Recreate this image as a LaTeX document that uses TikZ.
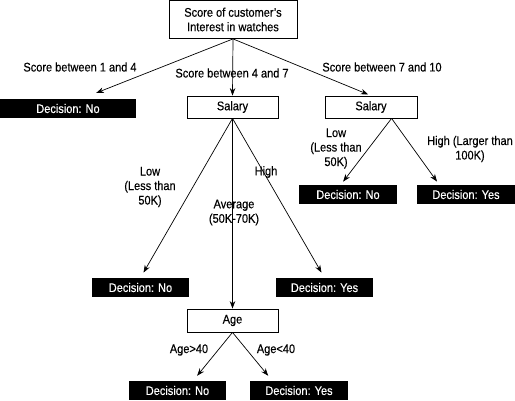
\documentclass[tikz,border=0pt]{standalone}
\usepackage{fontspec}
\setmainfont{Liberation Sans}[FakeStretch=0.88, FakeBold=0.35]
\usetikzlibrary{arrows.meta,calc,positioning}

\begin{document}
\begin{tikzpicture}[x=1pt,y=-1pt,
    every node/.style={font=\fontsize{12.5}{14.5}\selectfont, inner sep=0pt},
    splitbox/.style={draw, line width=0.8pt, fill=white, minimum width=91pt, minimum height=22pt, align=center},
    decbox/.style={fill=black, text=white, minimum width=97pt, minimum height=19pt},
    lbl/.style={align=center},
    edge/.style={line width=0.7pt, -{Stealth[length=7.5pt,width=5.5pt]}}]
    \useasboundingbox (0,0) rectangle (515,400);
    % Split nodes
    \node[splitbox, minimum width=128pt, minimum height=38pt] (root) at (233,19.5) {Score of customer's\\Interest in watches};
    \node[splitbox] (sal1) at (232.5,107) {Salary};
    \node[splitbox, minimum width=92pt] (sal2) at (371,107) {Salary};
    \node[splitbox, minimum height=23pt] (age) at (232.5,320.5) {Age};
    % Decisions
    \node[decbox, minimum width=136pt] (dec1) at (68,108.5) {Decision: No};
    \node[decbox] (dec2) at (140.5,287.5) {Decision: No};
    \node[decbox] (dec3) at (324.5,287.5) {Decision: Yes};
    \node[decbox, minimum width=98pt] (dec4) at (348,194.5) {Decision: No};
    \node[decbox, minimum width=98pt] (dec5) at (466,194.5) {Decision: Yes};
    \node[decbox] (dec6) at (177.5,390.5) {Decision: No};
    \node[decbox, minimum width=98pt] (dec7) at (299,390.5) {Decision: Yes};
    % Branches
    \draw[edge, shorten >=16pt] (root.south) -- (dec1.36);
    \draw[edge] (root.south) -- (sal1.north);
    \draw[edge, shorten >=3pt] (root.south) -- (sal2.north);
    \draw[edge, shorten >=6pt] (sal1.south) -- (dec2.north);
    \draw[edge, shorten >=6pt] (sal1.south) -- (dec3.north);
    \draw[edge] (sal1.south) -- (age.north);
    \draw[edge, shorten >=4pt] (sal2.-29) -- (dec4.127);
    \draw[edge, shorten >=4pt] (sal2.-29) -- (dec5.160);
    \draw[edge, shorten >=6.5pt] (age.south) -- (dec6.32);
    \draw[edge, shorten >=6.5pt] (age.south) -- (dec7.160);
    % Branch labels
    \node[lbl] (s14) at (80,67) {Score between 1 and 4};
    \node[lbl] (s47) at (232,73) {Score between 4 and 7};
    \node[lbl] (s710) at (382,67) {Score between 7 and 10};
    \node[lbl] (lowA) at (150,187) {Low\\(Less than\\50K)};
    \node[lbl] (avgA) at (234,212.5) {Average\\(50K-70K)};
    \node[lbl] (highA) at (266,172) {High};
    \node[lbl] (lowB) at (336,148.5) {Low\\(Less than\\50K)};
    \node[lbl] (highB) at (470,149) {High (Larger than\\100K)};
    \node[lbl] (agegt) at (189,350) {Age>40};
    \node[lbl] (agelt) at (276,350) {Age<40};
\end{tikzpicture}
\end{document}
